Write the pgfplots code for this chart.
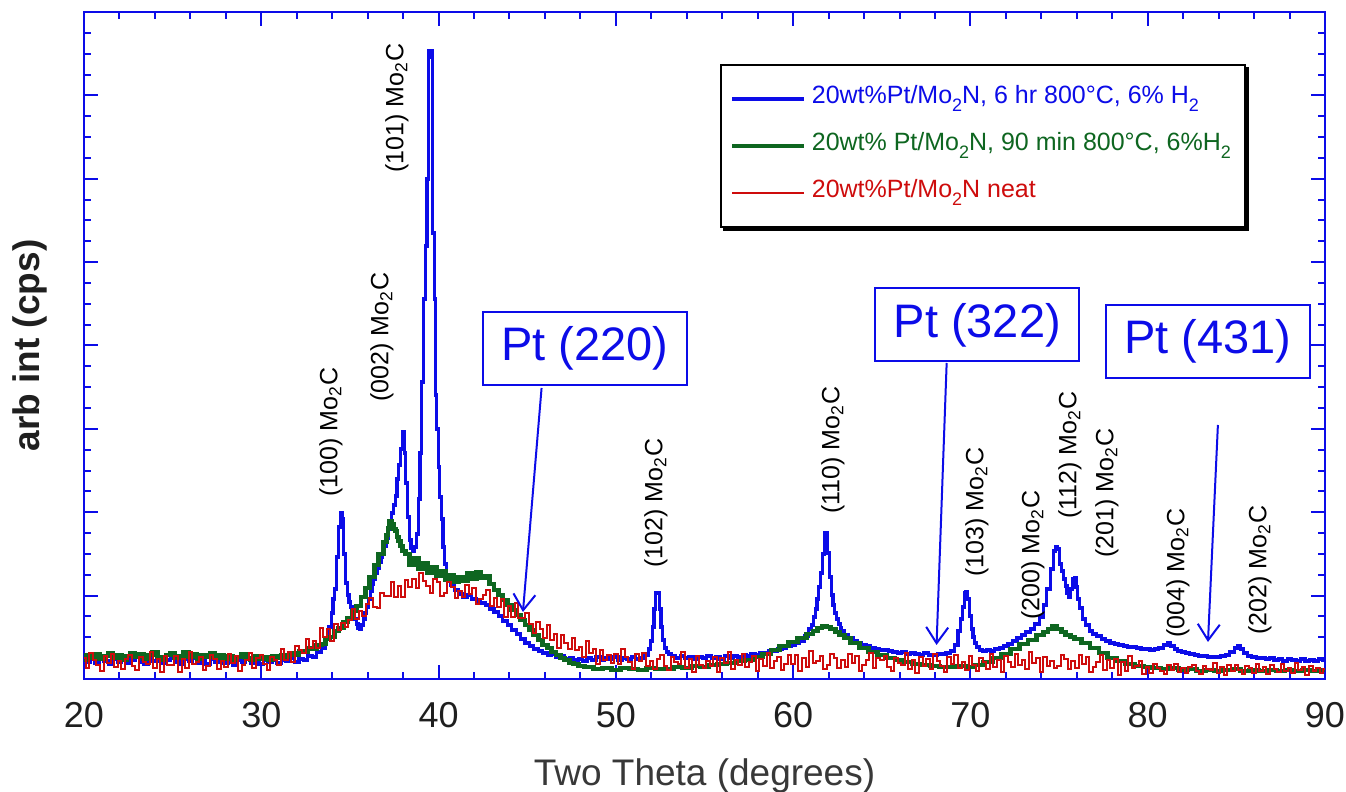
\documentclass[border=0pt]{standalone}
\usepackage{fontspec}
\setmainfont{Liberation Sans}
\usepackage{pgfplots}
\usepackage{pgfplotstable}
\pgfplotsset{compat=1.18}
\usetikzlibrary{arrows.meta,backgrounds}
\definecolor{xblue}{RGB}{12,12,232}
\definecolor{xgreen}{RGB}{14,102,32}
\definecolor{xred}{RGB}{206,12,12}
\newcommand\lsub[1]{\raisebox{-0.65ex}{\fontsize{9}{9}\selectfont #1}}

\pgfplotstableread{
x y
20.0 21
20.25 17
20.5 20
20.75 16
21.0 21
21.25 18
21.5 15
21.75 20
22.0 17
22.25 21
22.5 16
22.75 19
23.0 22
23.25 17
23.5 15
23.75 20
24.0 18
24.25 21
24.5 16
24.75 19
25.0 22
25.25 17
25.5 15
25.75 20
26.0 18
26.25 21
26.5 16
26.75 18
27.0 15
27.25 20
27.5 17
27.75 21
28.0 16
28.25 18
28.5 14
28.75 19
29.0 17
29.25 21
29.5 16
29.75 18
30.0 15
30.25 19
30.5 17
30.75 20
31.0 16
31.25 19
31.5 18
31.75 21
32.0 17
32.25 20
32.5 19
32.75 23
33.0 22
33.25 27
33.5 31
33.7 40
33.9 52
34.0 66
34.1 80
34.2 90
34.3 122
34.4 152
34.5 166
34.6 160
34.7 125
34.8 96
34.9 84
35.0 77
35.1 72
35.2 64
35.3 60
35.4 55
35.5 51
35.6 50
35.7 54
35.8 60
35.9 66
36.0 72
36.1 80
36.2 88
36.3 95
36.4 100
36.5 106
36.6 111
36.7 117
36.8 122
36.9 127
37.0 133
37.1 141
37.2 150
37.3 158
37.4 166
37.5 174
37.6 183
37.7 200
37.8 214
37.9 230
38.0 247
38.05 247
38.1 226
38.2 196
38.3 162
38.4 139
38.5 131
38.6 128
38.7 132
38.8 145
38.9 180
39.0 226
39.1 297
39.2 380
39.3 433
39.4 500
39.45 628
39.55 622
39.65 628
39.7 446
39.8 380
39.85 284
39.95 250
40.0 212
40.1 182
40.2 160
40.3 132
40.4 115
40.5 104
40.6 98
40.8 94
41.0 89
41.25 85
41.5 82
41.75 84
42.0 80
42.25 78
42.5 76
42.75 74
43.0 70
43.25 67
43.5 63
43.75 58
44.0 54
44.25 49
44.5 45
44.75 40
45.0 36
45.25 33
45.5 30
45.75 28
46.0 26
46.25 24
46.5 25
46.75 22
47.0 23
47.25 20
47.5 21
47.75 19
48.0 20
48.25 18
48.5 21
48.75 19
49.0 22
49.25 19
49.5 21
49.75 20
50.0 22
50.25 19
50.5 21
50.75 20
51.0 22
51.25 20
51.5 21
51.75 24
51.9 30
52.0 38
52.1 52
52.2 70
52.3 86
52.4 86
52.5 70
52.6 52
52.7 39
52.8 31
52.9 27
53.0 25
53.25 23
53.5 21
53.75 23
54.0 21
54.25 22
54.5 20
54.75 22
55.0 21
55.25 23
55.5 21
55.75 22
56.0 20
56.25 23
56.5 21
56.75 23
57.0 22
57.25 24
57.5 23
57.75 25
58.0 24
58.25 26
58.5 26
58.75 28
59.0 28
59.25 30
59.5 31
59.75 33
60.0 34
60.25 36
60.5 38
60.75 43
61.0 50
61.1 54
61.2 62
61.3 70
61.4 80
61.5 92
61.6 106
61.7 125
61.8 146
61.9 146
62.0 126
62.1 102
62.2 84
62.3 74
62.4 66
62.5 60
62.6 55
62.7 51
62.8 48
63.0 44
63.25 41
63.5 38
63.75 36
64.0 34
64.25 33
64.5 31
64.75 30
65.0 29
65.25 29
65.5 28
65.75 27
66.0 26
66.25 27
66.5 25
66.75 26
67.0 25
67.25 24
67.5 26
67.75 24
68.0 24
68.25 25
68.5 25
68.75 26
69.0 28
69.2 34
69.4 48
69.5 60
69.6 72
69.7 86
69.8 87
69.9 80
70.0 63
70.1 50
70.2 42
70.3 36
70.4 32
70.6 29
70.8 28
71.0 29
71.25 28
71.5 30
71.75 31
72.0 33
72.25 35
72.5 38
72.75 41
73.0 44
73.25 47
73.5 50
73.75 55
74.0 62
74.2 74
74.4 90
74.6 110
74.75 128
74.85 132
74.95 130
75.1 115
75.2 108
75.3 100
75.4 93
75.5 86
75.6 82
75.7 90
75.8 100
75.9 101
76.0 92
76.1 80
76.2 71
76.4 60
76.6 54
76.8 48
77.0 45
77.25 43
77.5 40
77.75 38
78.0 36
78.25 35
78.5 34
78.75 33
79.0 32
79.25 32
79.5 31
79.75 30
80.0 30
80.25 29
80.5 30
80.75 31
81.0 34
81.2 36
81.4 33
81.6 30
81.8 28
82.0 27
82.25 26
82.5 25
82.75 24
83.0 23
83.25 23
83.5 22
83.75 22
84.0 22
84.25 23
84.5 24
84.75 27
85.0 31
85.15 33
85.3 30
85.5 26
85.75 23
86.0 22
86.25 21
86.5 21
86.75 20
87.0 21
87.25 19
87.5 20
87.75 18
88.0 20
88.25 19
88.5 18
88.75 20
89.0 18
89.25 19
89.5 18
89.75 20
90.0 19
}\bluedata

\pgfplotstableread{
x y
20.0 19
20.25 24
20.5 21
20.75 25
21.0 20
21.25 23
21.5 26
21.75 21
22.0 24
22.25 19
22.5 23
22.75 26
23.0 22
23.25 25
23.5 20
23.75 24
24.0 27
24.25 22
24.5 19
24.75 24
25.0 26
25.25 21
25.5 23
25.75 27
26.0 22
26.25 25
26.5 20
26.75 24
27.0 22
27.25 26
27.5 21
27.75 24
28.0 20
28.25 23
28.5 19
28.75 22
29.0 25
29.25 21
29.5 19
29.75 23
30.0 20
30.25 22
30.5 19
30.75 23
31.0 21
31.25 24
31.5 22
31.75 26
32.0 24
32.25 28
32.5 27
32.75 31
33.0 30
33.25 34
33.5 35
33.75 40
34.0 42
34.25 48
34.5 51
34.75 57
35.0 61
35.25 68
35.5 73
35.75 82
36.0 91
36.25 102
36.5 114
36.75 125
37.0 137
37.1 144
37.2 151
37.3 158
37.4 155
37.5 150
37.6 148
37.7 142
37.8 138
37.9 133
38.0 128
38.25 125
38.5 114
38.75 121
39.0 110
39.25 116
39.5 106
39.75 112
40.0 103
40.25 108
40.5 99
40.75 104
41.0 97
41.25 102
41.5 98
41.75 106
42.0 100
42.25 107
42.5 101
42.75 103
43.0 95
43.25 89
43.5 84
43.75 79
44.0 74
44.25 69
44.5 64
44.75 59
45.0 54
45.25 49
45.5 44
45.75 39
46.0 34
46.25 31
46.5 27
46.75 24
47.0 21
47.25 19
47.5 16
47.75 15
48.0 13
48.5 12
49.0 10
49.5 11
50.0 9
50.5 11
51.0 10
51.5 9
52.0 11
52.5 10
53.0 10
53.5 12
54.0 11
54.5 13
55.0 12
55.5 14
56.0 15
56.5 16
57.0 18
57.5 19
58.0 22
58.5 25
59.0 29
59.5 33
60.0 37
60.5 41
61.0 45
61.25 48
61.5 51
61.75 53
62.0 52
62.25 50
62.5 47
62.75 44
63.0 41
63.5 36
64.0 31
64.5 27
65.0 24
65.5 21
66.0 19
66.5 17
67.0 15
67.5 14
68.0 13
68.5 12
69.0 12
69.5 13
70.0 12
70.5 14
71.0 17
71.5 21
72.0 25
72.5 30
73.0 35
73.5 39
74.0 44
74.25 47
74.5 50
74.75 53
75.0 50
75.25 47
75.5 44
75.75 42
76.0 40
76.5 36
77.0 31
77.5 26
78.0 21
78.5 18
79.0 15
79.5 13
80.0 12
80.5 11
81.0 10
81.5 11
82.0 9
82.5 10
83.0 8
83.5 9
84.0 8
84.5 9
85.0 10
85.5 8
86.0 9
86.5 8
87.0 9
87.5 8
88.0 9
88.5 8
89.0 9
89.5 8
90.0 9
}\greendata

\pgfplotstableread{
x y
20.0 21
20.2 11
20.4 26
20.6 19
20.8 14
21.0 8
21.2 23
21.4 16
21.6 25
21.8 12
22.0 18
22.2 10
22.4 20
22.6 24
22.8 13
23.0 9
23.2 22
23.4 17
23.6 15
23.8 27
24.0 11
24.2 20
24.4 7
24.6 23
24.8 14
25.0 14
25.2 23
25.4 7
25.6 20
25.8 11
26.0 27
26.2 15
26.4 17
26.6 22
26.8 9
27.0 13
27.2 24
27.4 20
27.6 10
27.8 18
28.0 12
28.2 25
28.4 16
28.6 23
28.8 8
29.0 14
29.2 19
29.4 26
29.6 11
29.8 21
30.0 24
30.2 15
30.4 9
30.6 22
30.8 19
31.0 14
31.2 30
31.4 19
31.6 27
31.8 17
32.0 33
32.2 29
32.4 26
32.6 40
32.8 31
33.0 38
33.2 31
33.4 51
33.6 42
33.8 50
34.0 38
34.2 55
34.4 49
34.6 56
34.8 52
35.0 59
35.2 70
35.4 60
35.6 68
35.8 63
36.0 75
36.2 81
36.4 72
36.6 71
36.8 86
37.0 83
37.2 83
37.4 97
37.6 82
37.8 93
38.0 82
38.2 99
38.4 92
38.6 100
38.8 91
39.0 106
39.2 98
39.4 93
39.6 86
39.8 100
40.0 97
40.2 83
40.4 86
40.6 97
40.8 92
41.0 81
41.2 88
41.4 82
41.6 94
41.8 85
42.0 91
42.2 75
42.4 80
42.6 84
42.8 89
43.0 73
43.2 81
43.4 72
43.6 80
43.8 62
44.0 73
44.2 62
44.4 76
44.6 61
44.8 61
45.0 66
45.2 55
45.4 46
45.6 57
45.8 50
46.0 41
46.2 54
46.4 39
46.6 45
46.8 31
47.0 44
47.2 36
47.4 30
47.6 41
47.8 29
48.0 32
48.2 22
48.4 38
48.6 26
48.8 30
49.0 15
49.2 29
49.4 19
49.6 24
49.8 16
50.0 25
50.2 15
50.4 30
50.6 22
50.8 17
51.0 10
51.2 25
51.4 18
51.6 26
51.8 13
52.0 18
52.2 10
52.4 20
52.6 24
52.8 13
53.0 9
53.2 22
53.4 17
53.6 15
53.8 27
54.0 11
54.2 20
54.4 7
54.6 23
54.8 14
55.0 11
55.2 18
55.4 13
55.6 22
55.8 7
56.0 21
56.2 16
56.4 27
56.6 10
56.8 19
57.0 14
57.2 25
57.4 12
57.6 17
57.8 23
58.0 8
58.2 20
58.4 13
58.6 26
58.8 11
59.0 18
59.2 22
59.4 9
59.6 15
59.8 24
60.0 15
60.2 24
60.4 8
60.6 21
60.8 12
61.0 28
61.2 16
61.4 18
61.6 23
61.8 10
62.0 14
62.2 25
62.4 21
62.6 11
62.8 19
63.0 12
63.2 25
63.4 16
63.6 23
63.8 8
64.0 14
64.2 19
64.4 26
64.6 11
64.8 21
65.0 19
65.2 23
65.4 12
65.6 8
65.8 21
66.0 16
66.2 14
66.4 26
66.6 10
66.8 19
67.0 6
67.2 22
67.4 13
67.6 20
67.8 10
68.0 25
68.2 18
68.4 13
68.6 7
68.8 22
69.0 15
69.2 24
69.4 11
69.6 17
69.8 9
70.0 23
70.2 14
70.4 8
70.6 21
70.8 17
71.0 10
71.2 25
71.4 12
71.6 19
71.8 7
72.0 23
72.2 17
72.4 12
72.6 25
72.8 14
73.0 19
73.2 10
73.4 27
73.6 16
73.8 21
74.0 7
74.2 22
74.4 13
74.6 18
74.8 11
75.0 13
75.2 24
75.4 20
75.6 10
75.8 18
76.0 11
76.2 24
76.4 15
76.6 22
76.8 7
77.0 12
77.2 17
77.4 24
77.6 9
77.8 19
78.0 11
78.2 20
78.4 4
78.6 17
78.8 8
79.0 23
79.2 11
79.4 13
79.6 18
79.8 5
80.0 12
80.2 6
80.4 15
80.6 11
80.8 8
81.0 5
81.2 14
81.4 9
81.6 15
81.8 7
82.0 11
82.2 6
82.4 12
82.6 14
82.8 8
83.0 5
83.2 13
83.4 10
83.6 9
83.8 16
84.0 6
84.2 12
84.4 4
84.6 14
84.8 8
85.0 14
85.2 9
85.4 5
85.6 13
85.8 11
86.0 6
86.2 15
86.4 8
86.6 12
86.8 5
87.0 14
87.2 10
87.4 7
87.6 15
87.8 8
88.0 11
88.2 6
88.4 16
88.6 9
88.8 12
89.0 4
89.2 13
89.4 8
89.6 11
89.8 6
90.0 10
}\reddata

\begin{document}
\begin{tikzpicture}
\useasboundingbox (-42pt,-56.5pt) rectangle (631pt,339.5pt);
\begin{axis}[
  at={(0,0)}, anchor=south west,
  scale only axis, width=620.5pt, height=333.5pt,
  xmin=20, xmax=90, ymin=0, ymax=667,
  xtick={20,30,...,90}, minor x tick num=4,
  ytick={0,83.375,166.75,250.125,333.5,416.875,500.25,583.625,667},
  minor y tick num=3, yticklabels={},
  tick align=inside,
  axis line style={xblue, line width=1pt},
  every tick/.style={xblue, line width=1pt},
  major tick length=7pt, minor tick length=3.5pt,
  /pgf/number format/assume math mode=true,
  xticklabel style={font=\fontsize{18}{20}\selectfont, text=black!88, yshift=-8pt},
  xlabel={Two Theta (degrees)},
  xlabel style={font=\fontsize{18.5}{22}\selectfont, text=black!78, at={(axis description cs:0.5,-0.145)}, anchor=center},
  ylabel={arb int (cps)},
  ylabel style={font=\fontsize{18.5}{22}\selectfont\bfseries, text=black!88, at={(axis description cs:-0.0435,0.5)}, anchor=center},
  legend cell align=left,
  legend image code/.code={\draw[#1] (0pt,0pt) -- (36pt,0pt);},
  legend style={name=leg, at={(0.9363,0.922)}, anchor=north east,
    draw=black, line width=1pt, fill=white,
    font=\fontsize{12.5}{14}\selectfont,
    inner xsep=5pt, inner ysep=8pt, row sep=5.5pt, column sep=1pt,
    nodes={inner sep=2pt, text height=9pt, text depth=5pt}},
]
\addplot[xblue, line width=1.6pt, const plot mark mid, line join=miter] table[x=x,y=y] {\bluedata};
\addlegendentry{\textcolor{xblue}{20wt\%Pt/Mo\lsub{2}N, 6 hr 800°C, 6\% H\lsub{2}}}
\addplot[xgreen, line width=2.4pt, const plot mark mid, line join=miter, legend image post style={line width=1.6pt}] table[x=x,y=y] {\greendata};
\addlegendentry{\textcolor{xgreen}{20wt\% Pt/Mo\lsub{2}N, 90 min 800°C, 6\%H\lsub{2}}}
\addplot[xred, line width=1pt, const plot mark mid, legend image post style={line width=0.8pt}] table[x=x,y=y] {\reddata};
\addlegendentry{\textcolor{xred}{20wt\%Pt/Mo\lsub{2}N neat}}

\begin{scope}[every node/.style={rotate=90, font=\fontsize{12.5}{14}\selectfont, text=black, inner sep=0pt}]
\node at (axis cs:33.93,247) {(100) Mo\textsubscript{2}C};
\node at (axis cs:36.81,342) {(002) Mo\textsubscript{2}C};
\node at (axis cs:37.65,571) {(101) Mo\textsubscript{2}C};
\node at (axis cs:52.26,176) {(102) Mo\textsubscript{2}C};
\node at (axis cs:62.25,229) {(110) Mo\textsubscript{2}C};
\node at (axis cs:70.37,167) {(103) Mo\textsubscript{2}C};
\node at (axis cs:73.53,124) {(200) Mo\textsubscript{2}C};
\node at (axis cs:75.61,224) {(112) Mo\textsubscript{2}C};
\node at (axis cs:77.70,186) {(201) Mo\textsubscript{2}C};
\node at (axis cs:81.70,106) {(004) Mo\textsubscript{2}C};
\node at (axis cs:86.33,109) {(202) Mo\textsubscript{2}C};
\end{scope}

\begin{scope}[every node/.style={draw=xblue, line width=1pt, text=xblue, fill=white, font=\fontsize{23.5}{28}\selectfont, minimum width=102pt, minimum height=36.5pt, inner sep=0pt}]
\node at (axis cs:48.26,330.5) {Pt (220)};
\node at (axis cs:70.39,354) {Pt (322)};
\node at (axis cs:83.40,337.5) {Pt (431)};
\end{scope}
\begin{scope}[xblue, line width=1pt, -{Straight Barb[length=8pt,width=11pt,line width=1pt]}]
\draw (axis cs:45.81,291) -- (axis cs:44.76,67);
\draw (axis cs:68.66,316) -- (axis cs:68.09,34);
\draw (axis cs:83.96,254) -- (axis cs:83.40,37);
\end{scope}
\end{axis}
\begin{pgfonlayer}{background}
\fill[black] ([shift={(1.7pt,-1.7pt)}]leg.south west) rectangle ([shift={(1.7pt,-1.7pt)}]leg.north east);
\end{pgfonlayer}
\end{tikzpicture}
\end{document}
